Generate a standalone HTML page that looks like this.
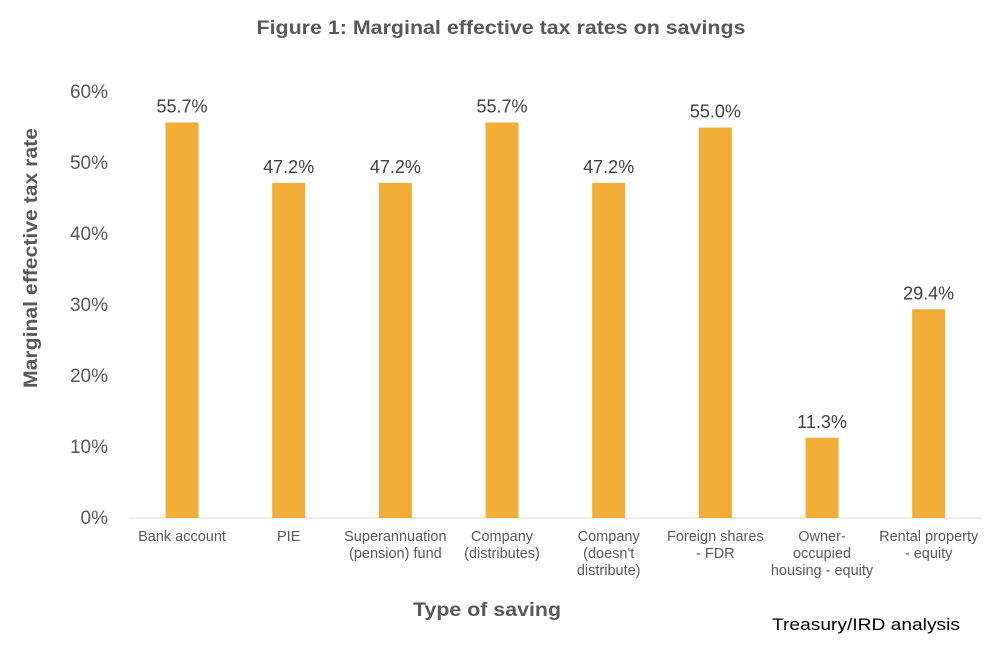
<!DOCTYPE html>
<html><head><meta charset="utf-8"><style>
body{margin:0;background:#fff;}
svg{display:block;font-family:"Liberation Sans",Arial,sans-serif;}
</style></head><body>
<svg width="992" height="646">
<text x="501" y="34" text-anchor="middle" font-size="19" font-weight="bold" fill="#595959" textLength="489" lengthAdjust="spacingAndGlyphs">Figure 1: Marginal effective tax rates on savings</text>
<g id="axes"></g><g id="bars"></g>
<text transform="translate(37,258) rotate(-90)" text-anchor="middle" font-size="19" font-weight="bold" fill="#595959" textLength="260" lengthAdjust="spacingAndGlyphs">Marginal effective tax rate</text>
<text x="487" y="616" text-anchor="middle" font-size="19" font-weight="bold" fill="#595959" textLength="148" lengthAdjust="spacingAndGlyphs">Type of saving</text>
<text x="866" y="630" text-anchor="middle" font-size="17" fill="#000" textLength="188" lengthAdjust="spacingAndGlyphs">Treasury/IRD analysis</text>
</svg>
<script>
const categories=[["Bank account"],["PIE"],["Superannuation","(pension) fund"],["Company","(distributes)"],["Company","(doesn't","distribute)"],["Foreign shares","- FDR"],["Owner-","occupied","housing - equity"],["Rental property","- equity"]];
const values=[55.7,47.2,47.2,55.7,47.2,55.0,11.3,29.4];
const yTicks=[0,10,20,30,40,50,60];
const NS="http://www.w3.org/2000/svg";
const x0=128.7,x1=982,y0=518,yTop=92,yMax=60;
const band=(x1-x0)/categories.length;
const xs=i=>x0+band*(i+0.5);
const ys=v=>y0-(v/yMax)*(y0-yTop);
function mk(t,a,p,txt){const e=document.createElementNS(NS,t);for(const k in a)e.setAttribute(k,a[k]);if(txt!==undefined)e.textContent=txt;p.appendChild(e);return e;}
const axes=document.getElementById('axes'),bars=document.getElementById('bars');
yTicks.forEach(t=>{const e=mk('text',{x:108,y:ys(t)+6,'text-anchor':'end','font-size':19,fill:'#595959'},axes,t+'%');

});
const ax=mk('line',{x1:x0,x2:x1,y1:y0,y2:y0,stroke:'#d9d9d9','stroke-width':1},axes);


values.forEach((v,i)=>{const cx=xs(i);
const r=mk('rect',{x:cx-16.5,y:ys(v),width:33,height:y0-ys(v),fill:'#f2ad37'},bars);


const l=mk('text',{x:cx,y:ys(v)-10,'text-anchor':'middle','font-size':18,fill:'#404040'},bars,v.toFixed(1)+'%');


categories[i].forEach((ln,j)=>{const c=mk('text',{x:cx,y:541+j*17,'text-anchor':'middle','font-size':14.5,fill:'#595959'},axes,ln);

});
});
</script>
</body></html>
